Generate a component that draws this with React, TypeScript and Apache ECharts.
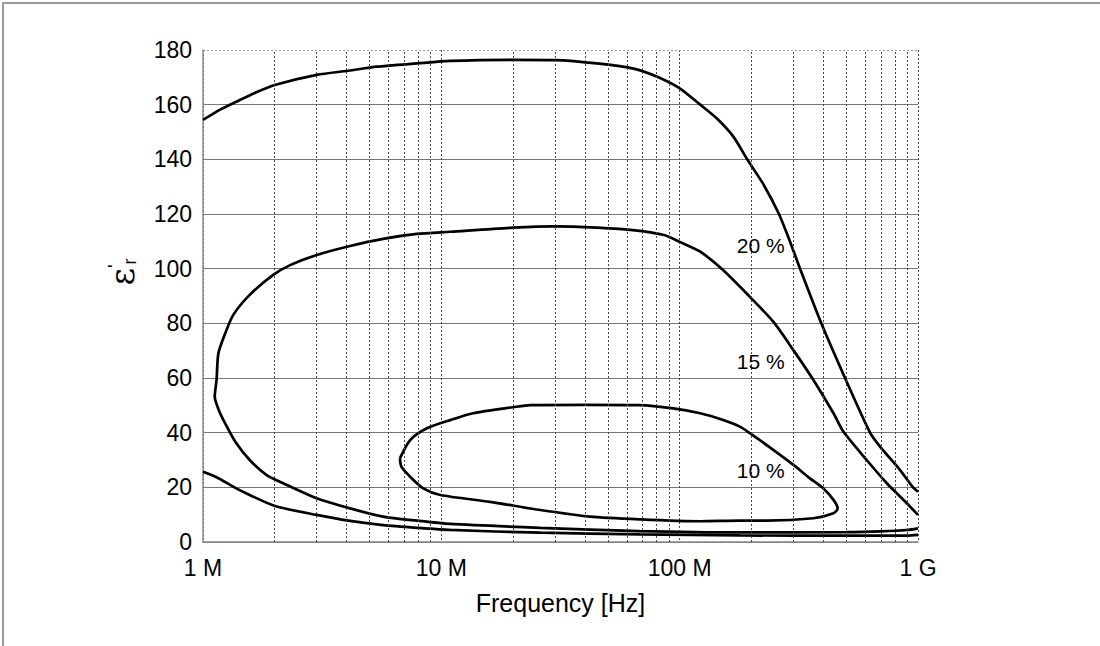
import React, { useEffect, useRef } from 'react';
import * as echarts from 'echarts';

// ---- data (frequency in Hz, relative permittivity) ----
const xTickLabels = ['1 M', '10 M', '100 M', '1 G'];
const minorMantissas = [2, 3, 4, 5, 6, 7, 8, 9];
const decades = [1e6, 1e7, 1e8];

const upper20: [number, number][] = [
  [1e6, 154.4], [1.18e6, 158.2], [1.38e6, 161.1], [1.65e6, 164.3], [2.0e6, 167.2], [3.0e6, 170.9], [4.07e6, 172.4],
  [5.35e6, 173.9], [7.9e6, 175.1], [10.9e6, 176.0], [20e6, 176.4], [30e6, 176.3],
  [46e6, 175.0], [64e6, 173.2], [80e6, 170.3], [100e6, 166], [122e6, 160],
  [143e6, 155], [168e6, 148.3], [192e6, 140], [224e6, 131], [261e6, 120],
  [290e6, 110], [320e6, 100], [393e6, 80], [494e6, 60], [629e6, 40],
  [693e6, 34.9], [841e6, 26.3], [953e6, 20], [1e9, 18.4],
];

const lower20: [number, number][] = [
  [1e6, 25.7], [1.14e6, 23.7], [1.38e6, 19.6], [1.57e6, 17.2], [2.0e6, 13.2],
  [3.0e6, 9.9], [4.07e6, 7.8], [5.7e6, 6.2], [7.9e6, 5.2], [10.9e6, 4.4],
  [26e6, 3.4], [68e6, 2.8], [179e6, 2.4], [500e6, 2.3], [900e6, 2.3], [1e9, 2.6],
];

const loop15: [number, number][] = [
  [1e9, 9.9], [897e6, 14.2], [740e6, 21.5], [609e6, 30], [486e6, 40.4],
  [442e6, 47.1], [364e6, 59.3], [300e6, 70.2], [247e6, 80.6], [197e6, 89.7],
  [152e6, 99.5], [122e6, 106.2], [100e6, 109.8], [86e6, 112.3], [65e6, 114], [45e6, 115],
  [30e6, 115.5], [20e6, 115], [10.9e6, 113.5], [7.9e6, 112.7], [5.7e6, 110.9],
  [4.14e6, 108.3], [3.0e6, 105.0], [2.32e6, 101.3], [1.97e6, 97.7], [1.57e6, 90.4],
  [1.34e6, 83.1], [1.24e6, 76.4], [1.16e6, 69.0], [1.14e6, 59.3], [1.12e6, 53.2],
  [1.18e6, 47.1], [1.26e6, 42.2], [1.38e6, 36.1], [1.57e6, 30], [1.85e6, 24.5],
  [2.17e6, 21.5], [3.0e6, 16], [4.14e6, 12.3], [5.7e6, 9.3], [7.9e6, 7.8],
  [10.9e6, 6.6], [26e6, 5.2], [68e6, 4.0], [179e6, 3.5], [500e6, 3.6],
  [700e6, 3.9], [900e6, 4.4], [1e9, 5.0],
];

const loop10: [number, number][] = [
  [6.7e6, 30.6], [7.4e6, 37.3], [8.7e6, 41.6], [10.9e6, 44.6], [13.6e6, 47.1],
  [20e6, 49.3], [23.6e6, 50.1], [40e6, 50.2], [68e6, 50.1], [94e6, 48.9],
  [122e6, 47.1], [150e6, 44.8], [179e6, 42.2], [197e6, 39.8], [247e6, 33.7], [300e6, 28.2],
  [352e6, 23.3], [401e6, 19.6], [442e6, 15.4], [460e6, 12.3], [442e6, 10.5],
  [364e6, 8.7], [232e6, 7.8], [179e6, 7.8], [122e6, 7.6], [68e6, 8.3],
  [42e6, 9.3], [26e6, 11.7], [16e6, 14.7], [9.9e6, 17.2], [8.4e6, 19.6],
  [7.4e6, 23.9], [6.8e6, 27.6], [6.7e6, 30.6],
];

const labelTexts = ['20 %', '15 %', '10 %'];
const labelFreqs = [219e6, 219e6, 219e6];
const labelEps = [108.4, 65.9, 26.1];

const FONT = '"Liberation Sans", Arial, sans-serif';

export default function App() {
  const ref = useRef<HTMLDivElement>(null);
  useEffect(() => {
    if (!ref.current) return;
    const chart = echarts.init(ref.current, undefined, { renderer: 'svg' });
    const minorFreqs: number[] = [];
    decades.forEach((d) => minorMantissas.forEach((m) => minorFreqs.push(m * d)));
    const curveStyle = { color: '#000', width: 2.7 };
    const mkLine = (name: string, data: [number, number][]) => ({
      name,
      type: 'line',
      data,
      showSymbol: false,
      symbol: 'none',
      smooth: 0.25,
      lineStyle: curveStyle,
      z: 3,
      silent: true,
    });
    const baseGraphic: any[] = [
      {
        type: 'rect',
        shape: { x: 3, y: 3, width: 1300, height: 900 },
        style: { fill: 'none', stroke: '#999', lineWidth: 2 },
        silent: true,
      },
      {
        type: 'text',
        x: 122,
        y: 272,
        rotation: Math.PI / 2,
        style: {
          text: "{e|ε}{p|'}{s|r}",
          align: 'center',
          verticalAlign: 'middle',
          rich: {
            e: { fontSize: 34, fontFamily: '"DejaVu Serif", serif', fill: '#000', lineHeight: 34 },
            p: { fontSize: 19, fontFamily: FONT, fill: '#000', verticalAlign: 'top', lineHeight: 34 },
            s: { fontSize: 18, fontFamily: FONT, fill: '#000', verticalAlign: 'bottom', lineHeight: 28 },
          },
        },
      },
    ];
    chart.setOption({
      animation: false,
      textStyle: { fontFamily: FONT },
      grid: { left: 203, top: 50, right: 182, bottom: 104, containLabel: false },
      xAxis: {
        type: 'log',
        logBase: 10,
        min: 1e6,
        max: 1e9,
        name: 'Frequency [Hz]',
        nameLocation: 'middle',
        nameGap: 48,
        nameTextStyle: { fontSize: 25, color: '#000', fontFamily: FONT },
        axisLine: { show: true, lineStyle: { color: '#888', width: 1.5 } },
        axisTick: { show: false },
        axisLabel: {
          fontSize: 23,
          color: '#000',
          margin: 14,
          fontFamily: FONT,
          formatter: (v: number) => xTickLabels[Math.round(Math.log10(v)) - 6] ?? '',
        },
        splitLine: { show: true, lineStyle: { color: '#444', width: 1, type: [2, 2] } },
      },
      yAxis: {
        type: 'value',
        min: 0,
        max: 180,
        interval: 20,
        axisLine: { show: true, lineStyle: { color: '#888', width: 1.5 } },
        axisTick: { show: false },
        axisLabel: { fontSize: 23, color: '#000', margin: 11, fontFamily: FONT },
        splitLine: {
          show: true,
          lineStyle: {
            color: ['#777', '#777', '#777', '#777', '#777', '#777', '#777', '#777', '#777', 'transparent'],
            width: 1,
          },
        },
      },
      graphic: baseGraphic,
      series: [
        {
          ...mkLine('grid', []),
          z: 1,
          markLine: {
            silent: true,
            symbol: 'none',
            animation: false,
            label: { show: false },
            lineStyle: { color: '#444', width: 1, type: [2, 2] },
            data: [
              ...minorFreqs.map((f) => ({ xAxis: f })),
              { yAxis: 180, lineStyle: { color: '#999', width: 1, type: [2, 2] } },
            ],
          },
        },
        mkLine('20 % upper', upper20),
        mkLine('20 % lower', lower20),
        mkLine('15 %', loop15),
        mkLine('10 %', loop10),
      ],
    });
    // curve labels placed through the chart's own scales
    const labelGraphics = labelTexts.map((t, i) => {
      const p = chart.convertToPixel({ gridIndex: 0 }, [labelFreqs[i], labelEps[i]]) as number[];
      return {
        type: 'text',
        x: p[0],
        y: p[1],
        silent: true,
        z: 10,
        style: {
          text: t,
          align: 'center',
          verticalAlign: 'middle',
          fontSize: 21,
          fontFamily: FONT,
          fill: '#000',
        },
      };
    });
    chart.setOption({ graphic: [...baseGraphic, ...labelGraphics] });
    return () => chart.dispose();
  }, []);
  return (
    <div
      ref={ref}
      style={{ position: 'fixed', left: 0, top: 0, width: 1100, height: 646, background: '#fff' }}
    />
  );
}
